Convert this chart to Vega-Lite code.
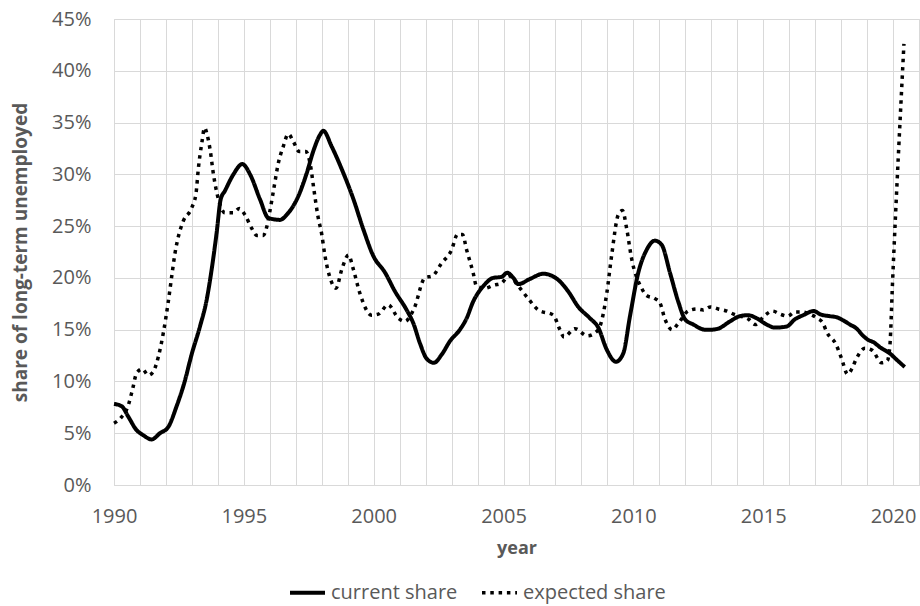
{
  "$schema": "https://vega.github.io/schema/vega-lite/v6.json",
  "width": 805,
  "height": 466,
  "autosize": {"type": "none"},
  "padding": {"left": 114, "top": 19, "right": 1, "bottom": 121},
  "background": "white",
  "config": {"view": {"stroke": "#d9d9d9"}, "font": "Open Sans"},
  "data": {"values": [
    {"series":"current share","year":1990,"share":7.83},{"series":"current share","year":1990.3,"share":7.6},{"series":"current share","year":1990.55,"share":6.6},{"series":"current share","year":1990.87,"share":5.3},{"series":"current share","year":1991.13,"share":4.8},{"series":"current share","year":1991.45,"share":4.4},{"series":"current share","year":1991.77,"share":5.0},{"series":"current share","year":1992.09,"share":5.6},{"series":"current share","year":1992.41,"share":7.6},{"series":"current share","year":1992.7,"share":9.8},{"series":"current share","year":1993,"share":12.7},{"series":"current share","year":1993.31,"share":15.3},{"series":"current share","year":1993.57,"share":17.9},{"series":"current share","year":1993.76,"share":20.8},{"series":"current share","year":1993.95,"share":24.3},{"series":"current share","year":1994.11,"share":27.6},{"series":"current share","year":1994.27,"share":28.4},{"series":"current share","year":1994.6,"share":30},{"series":"current share","year":1994.94,"share":31},{"series":"current share","year":1995.24,"share":30},{"series":"current share","year":1995.62,"share":27.6},{"series":"current share","year":1995.94,"share":25.8},{"series":"current share","year":1996.39,"share":25.6},{"series":"current share","year":1996.65,"share":26.1},{"series":"current share","year":1997.1,"share":27.9},{"series":"current share","year":1997.42,"share":30.1},{"series":"current share","year":1997.67,"share":32.2},{"series":"current share","year":1997.93,"share":33.8},{"series":"current share","year":1998.06,"share":34.2},{"series":"current share","year":1998.38,"share":32.7},{"series":"current share","year":1998.77,"share":30.5},{"series":"current share","year":1999.22,"share":27.6},{"series":"current share","year":1999.6,"share":24.7},{"series":"current share","year":1999.99,"share":22.1},{"series":"current share","year":2000.44,"share":20.5},{"series":"current share","year":2000.82,"share":18.7},{"series":"current share","year":2001.27,"share":16.9},{"series":"current share","year":2001.53,"share":15.6},{"series":"current share","year":2001.78,"share":13.7},{"series":"current share","year":2002.04,"share":12.2},{"series":"current share","year":2002.32,"share":11.8},{"series":"current share","year":2002.62,"share":12.6},{"series":"current share","year":2002.94,"share":13.9},{"series":"current share","year":2003.32,"share":15},{"series":"current share","year":2003.58,"share":16.1},{"series":"current share","year":2003.83,"share":17.7},{"series":"current share","year":2004.22,"share":19.2},{"series":"current share","year":2004.6,"share":20},{"series":"current share","year":2004.93,"share":20.1},{"series":"current share","year":2005.14,"share":20.5},{"series":"current share","year":2005.38,"share":20},{"series":"current share","year":2005.57,"share":19.4},{"series":"current share","year":2006.02,"share":19.9},{"series":"current share","year":2006.53,"share":20.4},{"series":"current share","year":2007.11,"share":19.8},{"series":"current share","year":2007.49,"share":18.7},{"series":"current share","year":2007.88,"share":17.2},{"series":"current share","year":2008.33,"share":16.1},{"series":"current share","year":2008.65,"share":15.2},{"series":"current share","year":2008.97,"share":13.1},{"series":"current share","year":2009.33,"share":11.9},{"series":"current share","year":2009.61,"share":12.7},{"series":"current share","year":2009.87,"share":16.3},{"series":"current share","year":2010.19,"share":20.5},{"series":"current share","year":2010.51,"share":22.7},{"series":"current share","year":2010.83,"share":23.6},{"series":"current share","year":2011.09,"share":23.2},{"series":"current share","year":2011.41,"share":20.5},{"series":"current share","year":2011.73,"share":17.7},{"series":"current share","year":2011.99,"share":16},{"series":"current share","year":2012.31,"share":15.5},{"series":"current share","year":2012.76,"share":15},{"series":"current share","year":2013.01,"share":15},{"series":"current share","year":2013.27,"share":15.1},{"series":"current share","year":2013.72,"share":15.8},{"series":"current share","year":2014.1,"share":16.3},{"series":"current share","year":2014.42,"share":16.4},{"series":"current share","year":2014.75,"share":16.1},{"series":"current share","year":2015.13,"share":15.5},{"series":"current share","year":2015.45,"share":15.2},{"series":"current share","year":2015.9,"share":15.3},{"series":"current share","year":2016.22,"share":16},{"series":"current share","year":2016.54,"share":16.4},{"series":"current share","year":2016.95,"share":16.8},{"series":"current share","year":2017.18,"share":16.5},{"series":"current share","year":2017.57,"share":16.3},{"series":"current share","year":2017.83,"share":16.2},{"series":"current share","year":2018.08,"share":15.9},{"series":"current share","year":2018.34,"share":15.5},{"series":"current share","year":2018.6,"share":15.1},{"series":"current share","year":2018.85,"share":14.4},{"series":"current share","year":2019.05,"share":14},{"series":"current share","year":2019.24,"share":13.8},{"series":"current share","year":2019.5,"share":13.3},{"series":"current share","year":2019.88,"share":12.7},{"series":"current share","year":2020.14,"share":12.1},{"series":"current share","year":2020.45,"share":11.4},
    {"series":"expected share","year":1990,"share":5.97},{"series":"expected share","year":1990.23,"share":6.4},{"series":"expected share","year":1990.55,"share":7.7},{"series":"expected share","year":1990.72,"share":9.3},{"series":"expected share","year":1990.87,"share":10.8},{"series":"expected share","year":1991.09,"share":11.2},{"series":"expected share","year":1991.32,"share":10.6},{"series":"expected share","year":1991.5,"share":10.9},{"series":"expected share","year":1991.71,"share":12.4},{"series":"expected share","year":1991.9,"share":14.7},{"series":"expected share","year":1992.09,"share":17.7},{"series":"expected share","year":1992.22,"share":20.1},{"series":"expected share","year":1992.35,"share":22.4},{"series":"expected share","year":1992.48,"share":24},{"series":"expected share","year":1992.67,"share":25.5},{"series":"expected share","year":1993,"share":26.8},{"series":"expected share","year":1993.16,"share":28.2},{"series":"expected share","year":1993.25,"share":30.6},{"series":"expected share","year":1993.38,"share":33},{"series":"expected share","year":1993.49,"share":34.5},{"series":"expected share","year":1993.59,"share":33.8},{"series":"expected share","year":1993.7,"share":32.4},{"series":"expected share","year":1993.83,"share":30},{"series":"expected share","year":1994.02,"share":27.6},{"series":"expected share","year":1994.27,"share":26.3},{"series":"expected share","year":1994.6,"share":26.3},{"series":"expected share","year":1994.83,"share":26.7},{"series":"expected share","year":1995.04,"share":26.1},{"series":"expected share","year":1995.3,"share":24.8},{"series":"expected share","year":1995.5,"share":24.1},{"series":"expected share","year":1995.75,"share":24.1},{"series":"expected share","year":1995.88,"share":24.9},{"series":"expected share","year":1996,"share":26.4},{"series":"expected share","year":1996.16,"share":28.7},{"series":"expected share","year":1996.33,"share":31.1},{"series":"expected share","year":1996.52,"share":32.7},{"series":"expected share","year":1996.71,"share":33.9},{"series":"expected share","year":1996.9,"share":33.2},{"series":"expected share","year":1997.13,"share":32.2},{"series":"expected share","year":1997.39,"share":32.2},{"series":"expected share","year":1997.57,"share":30.8},{"series":"expected share","year":1997.7,"share":28.5},{"series":"expected share","year":1997.85,"share":26},{"series":"expected share","year":1998,"share":24.2},{"series":"expected share","year":1998.12,"share":22.2},{"series":"expected share","year":1998.32,"share":20},{"series":"expected share","year":1998.55,"share":19},{"series":"expected share","year":1998.77,"share":20.8},{"series":"expected share","year":1999.03,"share":22.2},{"series":"expected share","year":1999.22,"share":20.8},{"series":"expected share","year":1999.47,"share":18.5},{"series":"expected share","year":1999.92,"share":16.4},{"series":"expected share","year":2000.18,"share":16.5},{"series":"expected share","year":2000.56,"share":17.4},{"series":"expected share","year":2000.95,"share":16.1},{"series":"expected share","year":2001.2,"share":15.8},{"series":"expected share","year":2001.55,"share":17},{"series":"expected share","year":2001.97,"share":20},{"series":"expected share","year":2002.27,"share":20.2},{"series":"expected share","year":2002.61,"share":21.4},{"series":"expected share","year":2003,"share":22.7},{"series":"expected share","year":2003.23,"share":24.2},{"series":"expected share","year":2003.42,"share":24.2},{"series":"expected share","year":2003.58,"share":22.7},{"series":"expected share","year":2003.83,"share":20.5},{"series":"expected share","year":2003.96,"share":19.2},{"series":"expected share","year":2004.28,"share":19},{"series":"expected share","year":2004.63,"share":19.3},{"series":"expected share","year":2004.93,"share":19.5},{"series":"expected share","year":2005.2,"share":20.2},{"series":"expected share","year":2005.57,"share":19.2},{"series":"expected share","year":2005.95,"share":18},{"series":"expected share","year":2006.34,"share":16.9},{"series":"expected share","year":2006.92,"share":16.4},{"series":"expected share","year":2007.17,"share":15},{"series":"expected share","year":2007.33,"share":14.3},{"series":"expected share","year":2007.75,"share":15.1},{"series":"expected share","year":2008.23,"share":14.4},{"series":"expected share","year":2008.52,"share":14.7},{"series":"expected share","year":2008.71,"share":15.3},{"series":"expected share","year":2008.97,"share":18.4},{"series":"expected share","year":2009.16,"share":22.1},{"series":"expected share","year":2009.42,"share":26.1},{"series":"expected share","year":2009.58,"share":26.5},{"series":"expected share","year":2009.74,"share":24.8},{"series":"expected share","year":2009.93,"share":21.9},{"series":"expected share","year":2010.32,"share":19},{"series":"expected share","year":2010.51,"share":18.3},{"series":"expected share","year":2010.83,"share":18},{"series":"expected share","year":2011.02,"share":17.6},{"series":"expected share","year":2011.22,"share":16},{"series":"expected share","year":2011.5,"share":15},{"series":"expected share","year":2011.73,"share":15.6},{"series":"expected share","year":2012.11,"share":16.8},{"series":"expected share","year":2012.44,"share":17},{"series":"expected share","year":2012.69,"share":16.9},{"series":"expected share","year":2012.97,"share":17.2},{"series":"expected share","year":2013.27,"share":17},{"series":"expected share","year":2013.6,"share":16.8},{"series":"expected share","year":2013.86,"share":16.5},{"series":"expected share","year":2014.44,"share":16},{"series":"expected share","year":2014.69,"share":15.5},{"series":"expected share","year":2015.07,"share":16.4},{"series":"expected share","year":2015.36,"share":16.8},{"series":"expected share","year":2015.65,"share":16.5},{"series":"expected share","year":2015.94,"share":16.3},{"series":"expected share","year":2016.22,"share":16.7},{"series":"expected share","year":2016.55,"share":16.7},{"series":"expected share","year":2016.8,"share":16.5},{"series":"expected share","year":2017.08,"share":16.1},{"series":"expected share","year":2017.31,"share":15.6},{"series":"expected share","year":2017.44,"share":14.8},{"series":"expected share","year":2017.8,"share":13.6},{"series":"expected share","year":2018.02,"share":12.2},{"series":"expected share","year":2018.25,"share":10.7},{"series":"expected share","year":2018.43,"share":11.3},{"series":"expected share","year":2018.57,"share":12.1},{"series":"expected share","year":2018.92,"share":13.2},{"series":"expected share","year":2019.2,"share":13},{"series":"expected share","year":2019.56,"share":11.8},{"series":"expected share","year":2019.78,"share":12},{"series":"expected share","year":2019.88,"share":13.5},{"series":"expected share","year":2019.98,"share":19.5},{"series":"expected share","year":2020.42,"share":42.6}
  ]},
  "mark": {"type": "line", "interpolate": "monotone"},
  "encoding": {
    "x": {
      "field": "year", "type": "quantitative",
      "scale": {"domain": [1990, 2021], "nice": false, "zero": false},
      "axis": {
        "title": "year",
        "values": [1990,1991,1992,1993,1994,1995,1996,1997,1998,1999,2000,2001,2002,2003,2004,2005,2006,2007,2008,2009,2010,2011,2012,2013,2014,2015,2016,2017,2018,2019,2020,2021],
        "labelExpr": "datum.value % 5 === 0 ? '' + datum.value : ''",
        "labelOverlap": false, "labelFlush": false, "labelBound": false,
        "grid": true, "gridColor": "#d9d9d9", "gridWidth": 1,
        "domainColor": "#d9d9d9", "ticks": false,
        "labelFont": "Open Sans", "labelFontSize": 20, "labelColor": "#595959", "labelPadding": 21,
        "titleFont": "Open Sans", "titleFontSize": 18, "titleFontWeight": "bold", "titleColor": "#595959", "titlePadding": 13
      }
    },
    "y": {
      "field": "share", "type": "quantitative",
      "scale": {"domain": [0, 45], "nice": false},
      "axis": {
        "title": "share of long-term unemployed",
        "values": [0,5,10,15,20,25,30,35,40,45],
        "labelExpr": "datum.value + '%'",
        "labelFlush": false,
        "grid": true, "gridColor": "#d9d9d9", "gridWidth": 1,
        "domain": false, "ticks": false,
        "labelFont": "Open Sans", "labelFontSize": 20, "labelColor": "#595959", "labelPadding": 23,
        "titleFont": "Open Sans", "titleFontSize": 19, "titleFontWeight": "bold", "titleColor": "#595959", "titlePadding": 21
      }
    },
    "color": {
      "field": "series", "type": "nominal",
      "scale": {"range": ["#000000", "#000000"]},
      "legend": {
        "title": null, "orient": "none", "direction": "horizontal",
        "legendX": 174, "legendY": 554,
        "symbolType": "stroke", "symbolSize": 1225,
        "labelFont": "Open Sans", "labelFontSize": 20, "labelColor": "#595959",
        "labelOffset": 4, "columnPadding": 17
      }
    },
    "strokeDash": {
      "field": "series", "type": "nominal",
      "scale": {"range": [[1, 0], [3.5, 4.8]]},
      "legend": {
        "title": null, "orient": "none", "direction": "horizontal",
        "legendX": 174, "legendY": 554,
        "symbolType": "stroke", "symbolSize": 1225,
        "labelFont": "Open Sans", "labelFontSize": 20, "labelColor": "#595959",
        "labelOffset": 4, "columnPadding": 17
      }
    },
    "strokeWidth": {
      "field": "series", "type": "nominal",
      "scale": {"type": "ordinal", "range": [4, 3.5]},
      "legend": {
        "title": null, "orient": "none", "direction": "horizontal",
        "legendX": 174, "legendY": 554,
        "symbolType": "stroke", "symbolSize": 1225,
        "labelFont": "Open Sans", "labelFontSize": 20, "labelColor": "#595959",
        "labelOffset": 4, "columnPadding": 17
      }
    }
  }
}
